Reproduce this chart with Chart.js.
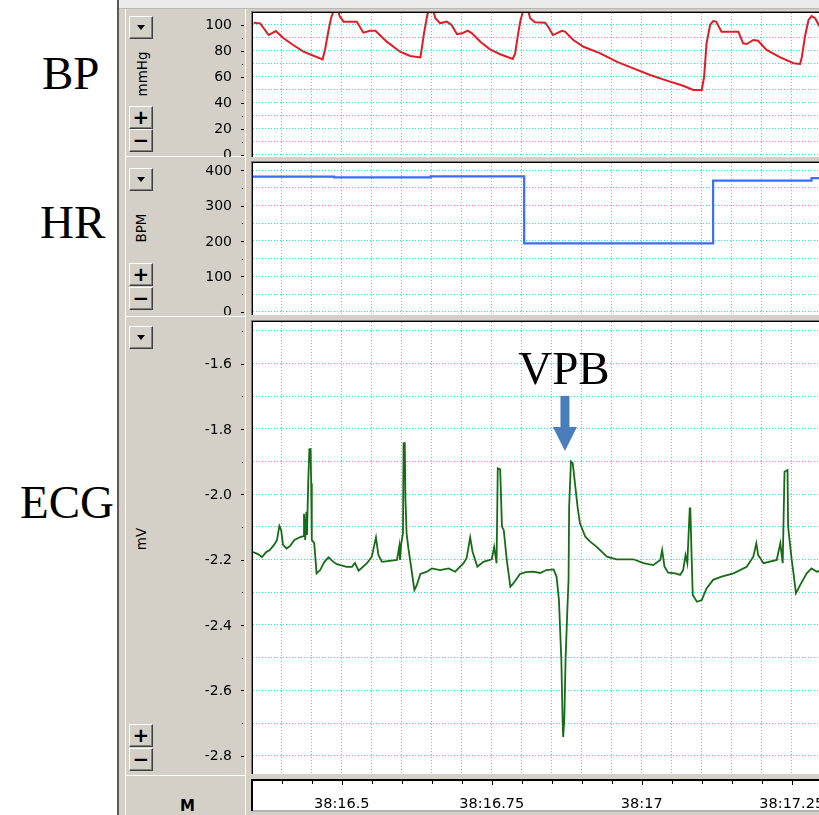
<!DOCTYPE html>
<html>
<head>
<meta charset="utf-8">
<title>BP / HR / ECG</title>
<script src="https://cdn.jsdelivr.net/npm/chart.js@4.4.1/dist/chart.umd.min.js"></script>
<style>
  html, body { margin: 0; padding: 0; }
  body { width: 819px; height: 815px; overflow: hidden; position: relative; background: #fff; font-family: "DejaVu Sans", sans-serif; }
  .big { position: absolute; font-family: "Liberation Serif", serif; font-size: 47px; line-height: 47px; color: #000; white-space: nowrap; }
  #frame { position: absolute; left: 117px; top: 0; width: 702px; height: 815px; background: #d4d0c8; border-left: 2px solid #5a5a5a; box-sizing: border-box; }
  #topstrip { position: absolute; left: 119px; top: 0; width: 700px; height: 8px; background: #ececec; border-bottom: 1px solid #b8b8b8; }
  .vl { position: absolute; width: 1px; background: #fff; }
  .hl { position: absolute; height: 1px; background: #fff; }
  .btn { position: absolute; left: 129px; width: 24px; height: 23px; background: #d4d0c8; box-sizing: border-box;
         border: 1px solid; border-color: #fff #404040 #404040 #fff; box-shadow: inset -1px -1px 0 #808080;
         font-weight: bold; font-size: 20px; line-height: 20px; text-align: center; color: #000; }
  .tri::after { content: ''; position: absolute; left: 7px; top: 8px; border-left: 4px solid transparent; border-right: 4px solid transparent; border-top: 5px solid #000; }
  .unit { position: absolute; width: 60px; height: 16px; font-size: 13.5px; line-height: 16px; text-align: center; transform: rotate(-90deg); white-space: nowrap; color: #000; }
  canvas { position: absolute; left: 120px; }
</style>
</head>
<body>
<div class="big" style="left:42px; top:50px;">BP</div>
<div class="big" style="left:40px; top:199px;">HR</div>
<div class="big" style="left:20px; top:479px;">ECG</div>

<div id="frame"></div>
<div id="topstrip"></div>
<div class="vl" style="left:125px; top:9px; height:806px;"></div>
<div class="vl" style="left:245px; top:9px; height:806px;"></div>
<div class="hl" style="left:125px; top:156px; width:121px;"></div>
<div class="hl" style="left:125px; top:316px; width:121px;"></div>
<div class="hl" style="left:125px; top:775px; width:121px;"></div>

<div class="btn tri" style="top:16px;"></div>
<div class="btn" style="top:106px;">+</div>
<div class="btn" style="top:129px;">&minus;</div>
<div class="unit" style="left:112px; top:66px;">mmHg</div>

<div class="btn tri" style="top:168px;"></div>
<div class="btn" style="top:263px;">+</div>
<div class="btn" style="top:287px;">&minus;</div>
<div class="unit" style="left:111px; top:220px;">BPM</div>

<div class="btn tri" style="top:326px;"></div>
<div class="btn" style="top:724px;">+</div>
<div class="btn" style="top:748px;">&minus;</div>
<div class="unit" style="left:111px; top:531px;">mV</div>

<div style="position:absolute; left:180px; top:797px; font-weight:bold; font-size:15px; line-height:18px;">M</div>

<canvas id="bpChart" width="780" height="146" style="top:11px;"></canvas>
<canvas id="hrChart" width="780" height="154" style="top:161px;"></canvas>
<canvas id="ecgChart" width="780" height="495" style="top:320px;"></canvas>

<script>
// time in seconds past 38:00
const timeMin = 16.352;
const timeMax = 17.4305;
const timeTickValues = [16.5, 16.75, 17, 17.25];
const timeTickLabels = ['38:16.5', '38:16.75', '38:17', '38:17.25'];

// blood pressure, mmHg
const bpTime = [16.353, 16.364, 16.378, 16.390, 16.403, 16.419, 16.436, 16.453, 16.468, 16.472,
  16.478, 16.482, 16.486, 16.494, 16.497, 16.503, 16.525, 16.536, 16.547, 16.556,
  16.575, 16.597, 16.614, 16.631, 16.633, 16.637, 16.642, 16.644, 16.653, 16.656,
  16.664, 16.675, 16.683, 16.692, 16.700, 16.710, 16.717, 16.731, 16.747, 16.764,
  16.785, 16.789, 16.794, 16.798, 16.802, 16.811, 16.814, 16.822, 16.839, 16.844,
  16.852, 16.867, 16.872, 16.886, 16.903, 16.931, 16.958, 16.986, 17.014, 17.042,
  17.069, 17.086, 17.100, 17.104, 17.108, 17.114, 17.119, 17.124, 17.133, 17.142,
  17.161, 17.169, 17.175, 17.186, 17.194, 17.208, 17.231, 17.253, 17.264, 17.267,
  17.272, 17.278, 17.283, 17.289, 17.296, 17.301];
const bpValue = [101.4, 100.9, 91.9, 95.0, 89.4, 84.2, 79.1, 76.0, 73.2, 80.4,
  95.8, 104.8, 110, 110, 106, 102.2, 102.2, 93.7, 95.2, 95.2,
  86.8, 79.1, 75.8, 74.7, 80.4, 93.2, 106, 110, 110, 104.8,
  100.9, 102.2, 99.6, 92.5, 93.2, 95.2, 93.2, 86.8, 80.9, 77.1,
  73.5, 77.8, 93.2, 103.5, 110, 110, 104.8, 101.7, 101.4, 98.3,
  91.9, 95.2, 94.5, 88.1, 82.9, 77.8, 71.4, 66.3, 61.2, 56.8,
  52.9, 49.6, 49.6, 59.8, 85.5, 99.6, 102.7, 102.2, 94.5, 94.5,
  94.5, 85.5, 85.0, 88.1, 87.5, 80.4, 74.7, 70.2, 69.6, 75.2,
  90.6, 103.5, 106.5, 104.8, 98.8, 95];
const bpTickLabels = [0, 20, 40, 60, 80, 100];

// heart rate, BPM (held until the next beat)
const hrTime = [16.352, 16.487, 16.648, 16.804, 17.119, 17.283, 17.4305];
const hrValue = [382, 380, 383, 193, 371, 378, 378];
const hrTickLabels = [0, 100, 200, 300, 400];

// ECG, mV
const ecgTime = [16.352, 16.360, 16.367, 16.374, 16.380, 16.387, 16.392, 16.396, 16.399, 16.402,
  16.408, 16.414, 16.421, 16.431, 16.436,
  16.437, 16.439, 16.441, 16.442, 16.444, 16.446, 16.448, 16.449, 16.450, 16.454,
  16.458, 16.464, 16.471, 16.478, 16.486, 16.492, 16.508, 16.517, 16.522, 16.528,
  16.542, 16.550, 16.557, 16.561, 16.567, 16.592,
  16.596, 16.597, 16.599, 16.602, 16.603, 16.605, 16.606, 16.608, 16.611, 16.617,
  16.621, 16.625, 16.631, 16.642, 16.650, 16.664, 16.678, 16.689, 16.703, 16.708,
  16.714, 16.718, 16.726, 16.736, 16.750, 16.754, 16.758,
  16.760, 16.764, 16.767, 16.770, 16.775, 16.781, 16.786, 16.797, 16.807, 16.819,
  16.831, 16.841, 16.853, 16.858,
  16.862, 16.866, 16.868, 16.869, 16.871, 16.873, 16.876, 16.878, 16.879, 16.882,
  16.885, 16.889, 16.893, 16.897, 16.906, 16.914, 16.925, 16.942, 16.958, 16.972,
  16.986, 17.003, 17.019, 17.031, 17.034, 17.038, 17.044, 17.056, 17.064, 17.069,
  17.073, 17.076, 17.080, 17.081, 17.083, 17.085, 17.092, 17.100, 17.108, 17.119,
  17.133, 17.153, 17.175, 17.186, 17.191, 17.194, 17.203, 17.225, 17.231, 17.235,
  17.238, 17.243, 17.244, 17.250, 17.253, 17.257, 17.264, 17.275, 17.283, 17.292,
  17.301];
const ecgValue = [-2.177, -2.183, -2.192, -2.177, -2.171, -2.155, -2.140, -2.097, -2.110, -2.155,
  -2.166, -2.158, -2.140, -2.131, -2.128,
  -2.060, -2.140, -2.054, -2.125, -1.966, -1.862, -1.862, -1.966, -2.140, -2.149,
  -2.242, -2.232, -2.207, -2.193, -2.207, -2.214, -2.222, -2.222, -2.210, -2.234,
  -2.211, -2.191, -2.132, -2.186, -2.207, -2.201,
  -2.158, -2.201, -2.152, -2.119, -1.844, -1.844, -2.008, -2.119, -2.165, -2.241,
  -2.293, -2.278, -2.244, -2.237, -2.227, -2.232, -2.227, -2.237, -2.211, -2.196,
  -2.132, -2.176, -2.222, -2.207, -2.199, -2.161, -2.211,
  -1.921, -1.924, -2.099, -2.110, -2.201, -2.283, -2.273, -2.244, -2.238, -2.237,
  -2.241, -2.232, -2.230, -2.252,
  -2.324, -2.507, -2.685, -2.743, -2.685, -2.507, -2.354, -2.262, -2.038, -1.900,
  -1.905, -1.972, -2.038, -2.089, -2.130, -2.145, -2.161, -2.191, -2.199, -2.199,
  -2.199, -2.211, -2.217, -2.201, -2.171, -2.222, -2.240, -2.242, -2.247, -2.232,
  -2.186, -2.211, -2.043, -2.043, -2.181, -2.308, -2.329, -2.324, -2.288, -2.262,
  -2.252, -2.242, -2.222, -2.191, -2.150, -2.186, -2.211, -2.201, -2.150, -2.211,
  -1.931, -1.926, -2.099, -2.201, -2.242, -2.303, -2.278, -2.242, -2.227, -2.237,
  -2.232];
const ecgTickLabels = [-1.6, -1.8, -2.0, -2.2, -2.4, -2.6, -2.8];

// premature beat marker
const vpbTime = 16.872;

const GRID = 'rgb(0, 245, 255)';

function pairs(xs, ys) {
  return xs.map((t, i) => ({ x: t, y: ys[i] }));
}

// ticks only on exact multiples of the step, so grid lines land on round values
function stepTicks(step) {
  return scale => {
    const out = [];
    const k0 = Math.ceil(scale.min / step - 1e-6);
    const k1 = Math.floor(scale.max / step + 1e-6);
    for (let k = k0; k <= k1; k++) out.push({ value: +(k * step).toFixed(6) });
    scale.ticks = out;
  };
}

function isOneOf(list, v) {
  return list.some(u => Math.abs(u - v) < 1e-6);
}

function panelPlugin(labels, format, extra) {
  return {
    id: 'panel',
    beforeDraw(chart) {
      const { ctx, chartArea: a } = chart;
      ctx.save();
      ctx.fillStyle = '#fff';
      ctx.fillRect(a.left, a.top, a.right - a.left, a.bottom - a.top);
      ctx.restore();
    },
    afterDraw(chart) {
      const { ctx, chartArea: a } = chart;
      const y = chart.scales.y;
      ctx.save();
      // sunken frame on the top and left edges
      ctx.fillStyle = '#7a7a7a';
      ctx.fillRect(a.left - 2, a.top - 2, a.right - a.left + 2, 1);
      ctx.fillRect(a.left - 2, a.top - 2, 1, a.bottom - a.top + 2);
      ctx.fillStyle = '#000';
      ctx.fillRect(a.left - 1, a.top - 1, a.right - a.left + 1, 1);
      ctx.fillRect(a.left - 1, a.top - 1, 1, a.bottom - a.top + 1);

      // tick dashes and dots beside the values
      y.ticks.forEach(t => {
        const py = Math.round(y.getPixelForValue(t.value));
        if (isOneOf(labels, t.value)) ctx.fillRect(a.left - 12, py, 3, 1);
        else ctx.fillRect(a.left - 11, py, 1, 1);
      });
      ctx.font = '14px "DejaVu Sans"';
      ctx.textAlign = 'right';
      ctx.textBaseline = 'middle';
      labels.forEach(v => ctx.fillText(format(v), a.left - 21, y.getPixelForValue(v) + 1));

      if (extra) extra(chart);
      ctx.restore();
    }
  };
}

function drawTimeStrip(chart) {
  const { ctx, chartArea: a } = chart;
  const x = chart.scales.x;
  const top = a.bottom + 6;
  ctx.fillStyle = '#fff';
  ctx.fillRect(a.left, top, chart.width - a.left, 30);
  ctx.fillStyle = '#b4b4b4';
  ctx.fillRect(a.left - 2, top + 30, chart.width, 2);
  ctx.fillStyle = '#000';
  ctx.fillRect(a.left - 2, top - 1, chart.width, 2);
  ctx.fillRect(a.left - 2, top - 1, 2, 32);
  x.ticks.forEach(t => {
    const px = Math.round(x.getPixelForValue(t.value));
    ctx.fillRect(px, top + 1, 1, isOneOf(timeTickValues, t.value) ? 4 : 3);
  });
  ctx.font = '14.5px "DejaVu Sans"';
  ctx.textAlign = 'center';
  ctx.textBaseline = 'alphabetic';
  timeTickValues.forEach((v, i) => ctx.fillText(timeTickLabels[i], x.getPixelForValue(v), top + 28));
}

function drawVpb(chart) {
  const { ctx } = chart;
  const { x, y } = chart.scales;
  const cx = x.getPixelForValue(vpbTime);
  ctx.fillStyle = '#000';
  ctx.font = '47px "Liberation Serif"';
  ctx.textAlign = 'center';
  ctx.textBaseline = 'alphabetic';
  ctx.fillText('VPB', cx - 1, y.getPixelForValue(-1.663));

  const shaftTop = y.getPixelForValue(-1.699);
  const headTop = y.getPixelForValue(-1.794);
  const tip = y.getPixelForValue(-1.868);
  ctx.fillStyle = '#4a7ebb';
  ctx.fillRect(cx - 4.5, shaftTop, 9, headTop - shaftTop + 1);
  ctx.beginPath();
  ctx.moveTo(cx - 12, headTop);
  ctx.lineTo(cx + 12, headTop);
  ctx.lineTo(cx, tip);
  ctx.closePath();
  ctx.fill();
}

function makeChart(id, data, line, yMin, yMax, yStep, labels, format, padBottom, extra) {
  return new Chart(document.getElementById(id), {
    type: 'line',
    data: {
      datasets: [Object.assign({
        data: data,
        pointRadius: 0,
        tension: 0,
        fill: false
      }, line)]
    },
    options: {
      responsive: false,
      animation: false,
      events: [],
      layout: { padding: { top: 2, left: 0, right: 0, bottom: padBottom } },
      plugins: { legend: { display: false }, tooltip: { enabled: false } },
      scales: {
        x: {
          type: 'linear',
          min: timeMin,
          max: timeMax,
          afterBuildTicks: stepTicks(0.05),
          ticks: { display: false },
          grid: { color: GRID, lineWidth: 1, drawTicks: false },
          border: { display: false, dash: [1, 2] }
        },
        y: {
          type: 'linear',
          min: yMin,
          max: yMax,
          afterBuildTicks: stepTicks(yStep),
          afterFit: s => { s.width = 133; },
          ticks: { display: false },
          grid: { color: GRID, lineWidth: 1, drawTicks: false },
          border: { display: false, dash: [1, 2] }
        }
      }
    },
    plugins: [panelPlugin(labels, format, extra)]
  });
}

makeChart('bpChart', pairs(bpTime, bpValue),
  { borderColor: 'rgb(222, 30, 36)', borderWidth: 2 },
  -1.92, 108.85, 10, bpTickLabels, v => String(v), 0);

makeChart('hrChart', pairs(hrTime, hrValue),
  { borderColor: 'rgb(58, 110, 250)', borderWidth: 2.2, stepped: true },
  -9.34, 420.65, 50, hrTickLabels, v => String(v), 0);

makeChart('ecgChart', pairs(ecgTime, ecgValue),
  { borderColor: 'rgb(22, 108, 22)', borderWidth: 1.8 },
  -2.856, -1.473, 0.1, ecgTickLabels, v => v.toFixed(1), 41,
  chart => { drawTimeStrip(chart); drawVpb(chart); });
</script>
</body>
</html>
